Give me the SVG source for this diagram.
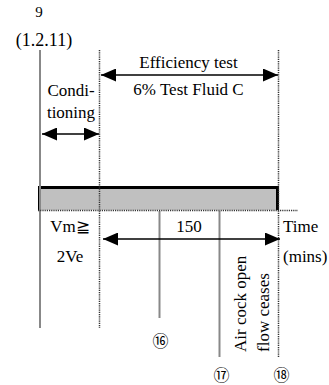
<svg xmlns="http://www.w3.org/2000/svg" width="329" height="385" viewBox="0 0 329 385">
<style>
text{font-family:"Liberation Serif","Times New Roman",serif;font-size:17px;fill:#000}
.c{text-anchor:middle}
.solid{stroke:#888;stroke-width:2;fill:none}
.dot{stroke:#333;stroke-width:1.5;stroke-dasharray:1.2 1;fill:none}
.arr{stroke:#000;stroke-width:1.5;fill:none;marker-start:url(#ah);marker-end:url(#ah)}
.num{font-family:"Noto Sans CJK JP",sans-serif;font-size:16px;text-anchor:middle}
</style>
<defs>
<marker id="ah" viewBox="0 0 15 13" refX="15" refY="6.5" markerWidth="15" markerHeight="13" markerUnits="userSpaceOnUse" orient="auto-start-reverse">
<path d="M0,0 L15,6.5 L0,13 Z" fill="#000"/>
</marker>
</defs>
<g id="bar">
<rect x="39.5" y="187.5" width="238" height="22.5" fill="#c0c0c0"/>
<path d="M39.5,210 V187.5 H277.5 V210" fill="none" stroke="#000" stroke-width="3"/>
</g>
<g id="connectors">
<line class="solid" x1="40" y1="50" x2="40" y2="328"/>
<line class="dot" x1="99.5" y1="50" x2="99.5" y2="328"/>
<line class="dot" x1="278.5" y1="50" x2="278.5" y2="357"/>
<line class="solid" x1="159.5" y1="211" x2="159.5" y2="318"/>
<line class="solid" x1="219.5" y1="211" x2="219.5" y2="357"/>
<line class="dot" x1="38" y1="210.5" x2="298" y2="210.5"/>
<line class="arr" x1="42" y1="134" x2="99" y2="134"/>
<line class="arr" x1="101" y1="75" x2="278" y2="75"/>
<line class="arr" x1="103" y1="239" x2="280" y2="239"/>
</g>
<g id="labels">
<text x="39" y="17" class="c" style="font-size:15px">9</text>
<text x="44" y="46" class="c" style="font-size:18px">(1.2.11)</text>
<text x="71" y="96" class="c">Condi-</text>
<text x="71" y="118" class="c">tioning</text>
<text x="188.5" y="68" class="c">Efficiency test</text>
<text x="188.5" y="95" class="c">6% Test Fluid C</text>
<text x="70" y="232" class="c">Vm≧</text>
<text x="70" y="262" class="c">2Ve</text>
<text x="189" y="232" class="c">150</text>
<text x="283" y="232">Time</text>
<text x="283" y="262">(mins)</text>
<text transform="translate(246,352) rotate(-90)">Air cock open</text>
<text transform="translate(269,352) rotate(-90)">flow ceases</text>
<text x="160.5" y="347" class="num">⑯</text>
<text x="221.5" y="381" class="num">⑰</text>
<text x="281.5" y="381" class="num">⑱</text>
</g>
</svg>
